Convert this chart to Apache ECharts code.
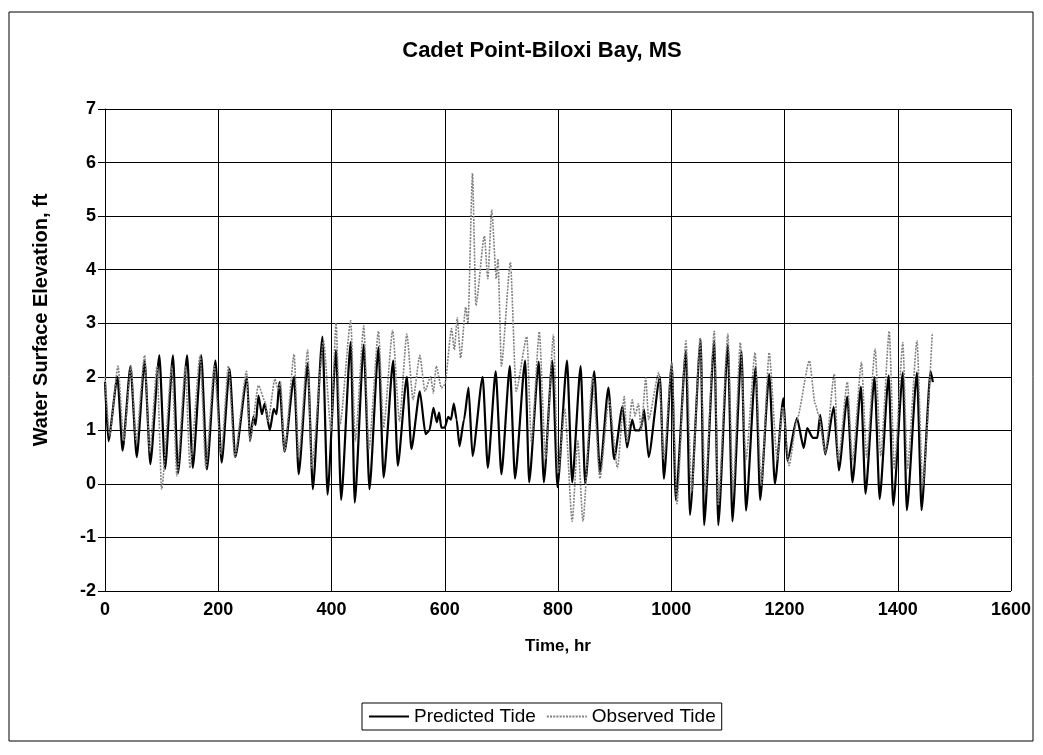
<!DOCTYPE html>
<html>
<head>
<meta charset="utf-8">
<script src="https://cdn.jsdelivr.net/npm/echarts@6/dist/echarts.min.js"></script>
<style>
  html, body { margin: 0; padding: 0; background: #fff; }
  #chart { width: 1043px; height: 755px; }
</style>
</head>
<body>
<div id="chart"></div>
<script>
// Predicted tide: highs and lows (hr, ft)
const predTime = [0, 6, 22, 31, 45, 56, 70, 80, 96, 106, 120, 129, 145, 155, 170, 180, 195, 206, 220, 230,
  251, 256, 262, 266, 271, 277, 282, 291, 298, 303, 308, 317, 334, 342, 358, 367, 384, 393, 408, 417,
  434, 441, 457, 467, 483, 492, 509, 517, 533, 541, 556, 566, 573, 580, 586, 590, 594, 600, 606, 611,
  616, 621, 626, 634, 642, 649, 667, 676, 690, 700, 715, 724, 742, 749, 766, 775, 790, 799, 816, 825,
  840, 848, 864, 874, 889, 899, 914, 922, 931, 936, 944, 948, 952, 960, 980, 987, 1001, 1008, 1026, 1033,
  1052, 1058, 1076, 1083, 1100, 1108, 1124, 1132, 1149, 1157, 1173, 1183, 1198, 1205, 1222, 1234, 1240, 1250, 1258, 1263,
  1272, 1287, 1296, 1311, 1320, 1335, 1343, 1359, 1368, 1384, 1392, 1409, 1416, 1434, 1442, 1458, 1462]
const predLevel = [1.9, 0.8, 2.0, 0.62, 2.2, 0.5, 2.3, 0.37, 2.4, 0.28, 2.4, 0.2, 2.4, 0.3, 2.4, 0.27, 2.3, 0.4, 2.15, 0.5,
  2.0, 0.8, 1.25, 1.1, 1.65, 1.3, 1.5, 1.0, 1.4, 1.3, 1.9, 0.6, 2.0, 0.18, 2.25, -0.1, 2.75, -0.2, 2.5, -0.3,
  2.65, -0.35, 2.6, -0.1, 2.55, 0.12, 2.3, 0.34, 2.0, 0.65, 1.73, 0.93, 1.0, 1.42, 1.15, 1.33, 1.05, 1.05, 1.25, 1.2,
  1.5, 1.2, 0.7, 1.2, 1.8, 0.52, 2.0, 0.3, 2.1, 0.18, 2.2, 0.1, 2.3, 0.03, 2.28, 0.03, 2.3, -0.06, 2.3, 0.03,
  2.2, 0.0, 2.1, 0.22, 1.8, 0.46, 1.45, 0.68, 1.2, 1.0, 1.0, 1.1, 1.39, 0.5, 2.0, 0.1, 2.24, -0.3, 2.48, -0.58,
  2.7, -0.77, 2.67, -0.77, 2.6, -0.7, 2.48, -0.5, 2.18, -0.3, 2.05, 0.0, 1.6, 0.43, 1.23, 0.67, 1.04, 0.86, 0.86, 1.29,
  0.55, 1.44, 0.25, 1.63, 0.03, 1.81, -0.18, 1.99, -0.28, 2.02, -0.4, 2.08, -0.49, 2.08, -0.49, 2.1, 1.9]

// Observed tide: highs and lows (hr, ft)
const obsTime = [0, 8, 23, 33, 46, 55, 70, 79, 92, 100, 118, 127, 142, 150, 168, 178, 193, 205, 218, 229,
  250, 256, 271, 283, 288, 300, 306, 310, 317, 334, 342, 358, 365, 386, 399, 408, 415, 434, 442, 457,
  466, 483, 492, 508, 520, 533, 544, 556, 565, 575, 580, 585, 594, 600, 612, 617, 622, 628, 637, 641,
  649, 655, 670, 676, 683, 691, 694, 700, 716, 726, 745, 753, 767, 778, 792, 800, 812, 825, 835, 844,
  861, 874, 890, 905, 917, 922, 931, 936, 942, 947, 955, 960, 978, 987, 1001, 1010, 1026, 1036, 1051, 1060,
  1076, 1083, 1100, 1109, 1122, 1132, 1148, 1159, 1173, 1187, 1197, 1208, 1222, 1244, 1254, 1260, 1272, 1288, 1295, 1311,
  1320, 1336, 1345, 1360, 1370, 1385, 1394, 1409, 1417, 1434, 1444, 1461]
const obsLevel = [2.0, 0.9, 2.2, 0.8, 2.2, 0.8, 2.4, 0.6, 2.2, -0.1, 2.2, 0.15, 2.2, 0.3, 2.4, 0.3, 2.2, 0.55, 2.2, 0.5,
  2.1, 0.8, 1.84, 1.53, 1.17, 1.96, 1.75, 1.9, 0.6, 2.42, 0.5, 2.5, 0.3, 2.67, 1.0, 3.0, 1.1, 3.05, 0.8, 2.95,
  0.65, 2.85, 1.05, 2.87, 1.17, 2.8, 1.57, 2.4, 1.73, 2.0, 1.7, 2.2, 1.79, 1.85, 2.9, 2.5, 3.1, 2.35, 3.3, 3.0,
  5.8, 3.33, 4.63, 3.83, 5.12, 3.83, 4.2, 2.2, 4.14, 1.73, 2.75, 0.77, 2.84, 0.46, 2.78, 0.2, 1.4, -0.7, 0.8, -0.7,
  2.0, 0.1, 1.57, 0.3, 1.63, 0.77, 1.57, 1.27, 1.5, 1.0, 1.98, 1.2, 2.08, 0.46, 2.27, -0.37, 2.67, -0.15, 2.73, -0.15,
  2.85, -0.4, 2.8, -0.15, 2.64, 0.46, 2.45, -0.03, 2.45, 0.46, 1.44, 0.34, 1.2, 2.3, 1.5, 1.3, 0.58, 2.05, 0.43, 1.9,
  0.43, 2.27, 0.5, 2.52, 0.52, 2.85, 0.28, 2.64, 0.28, 2.67, -0.03, 2.82]

const xTicks = [0, 1600, 200]
const yTicks = [-2, 7, 1]

const chart = echarts.init(document.getElementById('chart'))
const font = 'Liberation Sans, Arial, sans-serif'

chart.setOption({
  animation: false,
  backgroundColor: '#fff',
  title: {
    text: 'Cadet Point-Biloxi Bay, MS',
    left: 537,
    top: 35,
    textAlign: 'center',
    textStyle: { fontFamily: font, fontSize: 22, fontWeight: 'bold', color: '#000' },
  },
  // chart area frame
  graphic: [{
    type: 'rect',
    shape: { x: 9, y: 12, width: 1024, height: 729 },
    style: { fill: 'none', stroke: '#000', lineWidth: 1 },
    silent: true,
    z: -1,
  }],
  legend: {
    left: 362,
    top: 703,
    padding: [4, 6, 4, 6],
    itemGap: 10,
    itemWidth: 40,
    itemHeight: 12,
    borderColor: '#000',
    borderWidth: 1,
    borderRadius: 0,
    // line samples only, no marker
    itemStyle: { opacity: 0 },
    textStyle: { fontFamily: font, fontSize: 19, color: '#000' },
    data: ['Predicted Tide', 'Observed Tide'],
  },
  grid: {
    left: 105,
    top: 109,
    width: 906,
    height: 482,
    show: false,
  },
  xAxis: {
    type: 'value',
    min: xTicks[0],
    max: xTicks[1],
    interval: xTicks[2],
    name: 'Time, hr',
    nameLocation: 'middle',
    nameGap: 47,
    nameTextStyle: { fontFamily: font, fontSize: 17, fontWeight: 'bold', color: '#000' },
    axisLine: { lineStyle: { color: '#000', width: 1 } },
    axisTick: { show: false },
    axisLabel: {
      margin: 10,
      fontFamily: font,
      fontSize: 18,
      fontWeight: 'bold',
      color: '#000',
      formatter: (v) => String(v),
    },
    splitLine: { show: true, lineStyle: { color: '#000', width: 1 } },
  },
  yAxis: {
    type: 'value',
    min: yTicks[0],
    max: yTicks[1],
    interval: yTicks[2],
    name: 'Water Surface Elevation, ft',
    nameLocation: 'middle',
    nameGap: 54,
    nameTextStyle: {
      fontFamily: font, fontSize: 20, fontWeight: 'bold', color: '#000',
      padding: [0, 0, 0, 60],
    },
    axisLine: { show: true, lineStyle: { color: '#000', width: 1 } },
    axisTick: { show: true, length: 7, lineStyle: { color: '#000' } },
    axisLabel: {
      margin: 9,
      fontFamily: font,
      fontSize: 18,
      fontWeight: 'bold',
      color: '#000',
      formatter: (v) => String(v),
    },
    splitLine: { show: true, lineStyle: { color: '#000', width: 1 } },
  },
  series: [{
    name: 'Predicted Tide',
    type: 'line',
    symbol: 'none',
    smooth: 0.2,
    smoothMonotone: 'x',
    lineStyle: { color: '#000', width: 2.2 },
    itemStyle: { color: '#000' },
    data: predTime.map((t, i) => [t, predLevel[i]]),
  }, {
    name: 'Observed Tide',
    type: 'line',
    symbol: 'none',
    smooth: 0.2,
    smoothMonotone: 'x',
    lineStyle: { color: '#808080', width: 1.6, type: [2, 1.2] },
    itemStyle: { color: '#808080' },
    data: obsTime.map((t, i) => [t, obsLevel[i]]),
  }],
})
</script>
</body>
</html>
